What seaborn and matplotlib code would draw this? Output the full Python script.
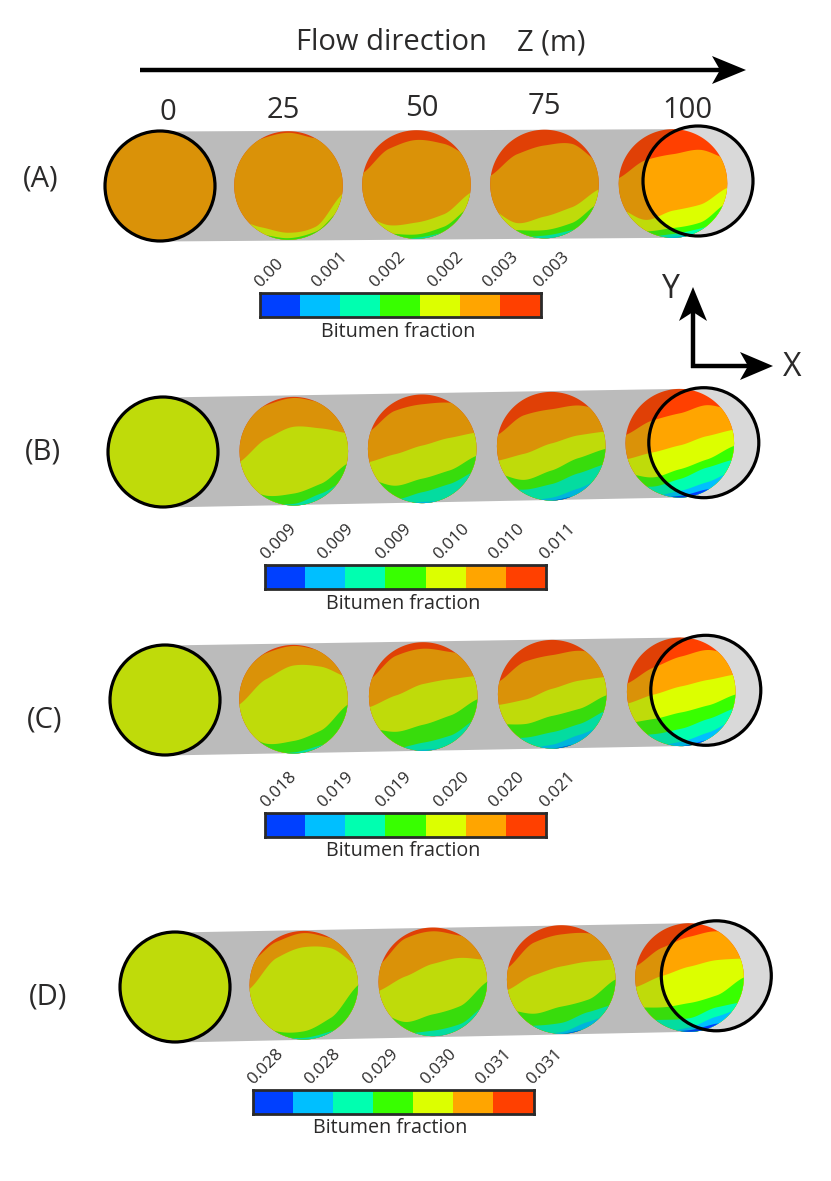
import numpy as np
import matplotlib
matplotlib.use('Agg')
import matplotlib.pyplot as plt
from matplotlib.colors import ListedColormap
from matplotlib.patches import Circle, Polygon
import seaborn as sns

# Pipe positions and colourbar labels
z_labels = ['0', '25', '50', '75', '100']
row_labels = ['(A)', '(B)', '(C)', '(D)']
ticks_A = ['0.00', '0.001', '0.002', '0.002', '0.003', '0.003']
ticks_B = ['0.009', '0.009', '0.009', '0.010', '0.010', '0.011']
ticks_C = ['0.018', '0.019', '0.019', '0.020', '0.020', '0.021']
ticks_D = ['0.028', '0.028', '0.029', '0.030', '0.031', '0.031']
levels = [0, 1, 2, 3, 4, 5, 6]

# Contour boundaries read off each slice (top to bottom, fraction of radius)
# sampled at these stations across the slice
stations = [-1, -0.5, 0, 0.5, 1]

A25 = [[.5, .86, .97, .87, .8], [-.6, -.77, -.87, -.76, -.15], [-.8, -.9, -.97, -.85, -.4]]
A50 = [[.2, .66, .82, .75, .5], [-.55, -.75, -.7, -.55, -.15], [-.8, -.9, -.92, -.78, -.4],
       [-1, -1, -.98, -.88, -.6]]
A75 = [[.15, .55, .71, .74, .4], [-.45, -.72, -.6, -.43, -.1], [-.8, -.85, -.85, -.72, -.35],
       [-.95, -.98, -.95, -.85, -.6], [-1, -1, -1, -.92, -.8]]
A100 = [[.1, .43, .54, .62, .45], [-.45, -.67, -.5, -.39, -.08], [-.8, -.88, -.82, -.72, -.35],
        [-.95, -.98, -.93, -.83, -.6], [-1, -1, -.98, -.9, -.75], [-1, -1, -1, -.96, -.85]]

B25 = [[.5, .85, .98, .9, .8], [-.2, .23, .45, .42, .33], [-.6, -.82, -.78, -.6, -.22],
       [-.9, -.96, -.97, -.78, -.5]]
B50 = [[.3, .7, .82, .85, .75], [-.25, -.1, .06, .2, .3], [-.55, -.68, -.55, -.4, -.13],
       [-.8, -.93, -.8, -.65, -.4], [-1, -1, -.98, -.92, -.6]]
B75 = [[.2, .57, .68, .75, .65], [-.27, -.14, .05, .2, .27], [-.5, -.62, -.45, -.22, -.05],
       [-.75, -.8, -.7, -.5, -.33], [-1, -1, -.95, -.78, -.55], [-1, -1, -1, -.9, -.75]]
B100 = [[.15, .42, .55, .7, .6], [-.3, -.17, -.04, .13, .25], [-.55, -.63, -.48, -.3, -.05],
        [-.75, -.8, -.66, -.45, -.3], [-1, -.98, -.88, -.72, -.5], [-1, -1, -.97, -.85, -.7]]

C25 = [[.45, .85, .98, .9, .8], [-.1, .37, .62, .6, .4], [-.55, -.82, -.77, -.58, -.1],
       [-.9, -.98, -.98, -.85, -.6]]
C50 = [[.3, .75, .88, .82, .7], [-.2, .02, .23, .32, .38], [-.58, -.65, -.52, -.35, -.05],
       [-.9, -.95, -.85, -.72, -.4], [-1, -1, -.98, -.92, -.65]]
C75 = [[.22, .6, .72, .8, .7], [-.2, -.1, .1, .25, .32], [-.55, -.55, -.4, -.27, -.02],
       [-.8, -.8, -.7, -.55, -.3], [-1, -1, -.93, -.75, -.55], [-1, -1, -1, -.9, -.75]]
C100 = [[.15, .45, .65, .77, .65], [-.22, -.05, .1, .22, .32], [-.58, -.5, -.38, -.25, -.05],
        [-.8, -.78, -.68, -.5, -.3], [-1, -1, -.92, -.75, -.5], [-1, -1, -1, -.88, -.68]]

D25 = [[.4, .8, .96, .87, .75], [-.07, .5, .7, .68, .35], [-.55, -.85, -.85, -.6, 0],
       [-.9, -.95, -.97, -.85, -.55]]
D50 = [[.3, .8, .93, .85, .72], [-.17, .1, .33, .44, .4], [-.55, -.74, -.6, -.45, 0],
       [-.95, -.95, -.9, -.78, -.4], [-1, -1, -1, -.9, -.55]]
D75 = [[.2, .68, .83, .85, .65], [-.2, .08, .24, .33, .37], [-.55, -.63, -.5, -.37, 0],
       [-.85, -.85, -.8, -.6, -.45], [-1, -1, -.97, -.78, -.6], [-1, -1, -1, -.9, -.75]]
D100 = [[.2, .55, .75, .85, .7], [-.18, .03, .2, .32, .35], [-.55, -.55, -.47, -.33, 0],
        [-.78, -.78, -.75, -.55, -.45], [-1, -1, -.92, -.72, -.55], [-1, -1, -.97, -.85, -.72]]

# colours from lowest to highest level
bright = ['#0040ff', '#00bfff', '#00ffb0', '#38ff00', '#dcff00', '#ffa500', '#ff4000']
dim = ['#0040e0', '#00b4dc', '#04dca0', '#38dc0c', '#bfdb0a', '#da9208', '#e04006']

# Layout in image pixels
W, H = 831, 1181
R_BIG = 55
R_SLICE = 54.3
rows = [
    dict(big=(160, 186, 5), slices=[(288, 185, A25), (416, 184, A50), (544, 183.5, A75), (672.5, 183, A100)],
         ring=(698, 181), bar=(259.5, 293, 281, 24), ticks=ticks_A, title=(398, 332), label=(41, 179)),
    dict(big=(163, 452, 4), slices=[(293.3, 450.7, B25), (421.7, 448.3, B50), (550.7, 445.7, B75), (679.3, 442.7, B100)],
         ring=(703.8, 442.7), bar=(265, 565, 281, 24), ticks=ticks_B, title=(403, 604), label=(43, 452)),
    dict(big=(165, 700, 4), slices=[(293, 698.7, C25), (422.7, 696, C50), (551.7, 693.7, C75), (680.7, 691.3, C100)],
         ring=(705.8, 690.3), bar=(265, 813, 281, 24), ticks=ticks_C, title=(403, 851), label=(45, 720)),
    dict(big=(175, 987, 4), slices=[(303.3, 984.7, D25), (432.3, 981.3, D50), (560.7, 979, D75), (689, 977, D100)],
         ring=(716.3, 975.8), bar=(252.5, 1090, 281, 24), ticks=ticks_D, title=(390, 1128), label=(48, 997)),
]
z_pos = [(168, 112), (283, 111), (422, 109), (544, 106), (687, 110)]
tick_dx = [0, 57, 115, 173, 228, 279]

TEXT = '#2b2a2a'
STRIP = '#bbbbbb'
RING_FILL = '#d9d9d9'

sns.set_theme(style='white')
plt.rcParams['font.family'] = ['Open Sans', 'DejaVu Sans']

fig = plt.figure(figsize=(W / 100, H / 100), dpi=100)
ax = fig.add_axes([0, 0, 1, 1])
ax.set_xlim(0, W)
ax.set_ylim(H, 0)
ax.axis('off')


def smooth_curve(u, values):
    # rounded curve through the read-off stations, tangents eased to cut the wobble
    xs = np.array(stations, dtype=float)
    ys = np.array(values, dtype=float)
    m = 0.7 * np.gradient(ys, xs)
    k = np.clip(np.searchsorted(xs, u, side='right') - 1, 0, len(xs) - 2)
    h = xs[k + 1] - xs[k]
    t = (u - xs[k]) / h
    return ((2 * t ** 3 - 3 * t ** 2 + 1) * ys[k] + (t ** 3 - 2 * t ** 2 + t) * h * m[k]
            + (-2 * t ** 3 + 3 * t ** 2) * ys[k + 1] + (t ** 3 - t ** 2) * h * m[k + 1])


def draw_slice(cx, cy, bounds, palette, clip=None):
    u = np.linspace(-1, 1, 401)
    edge = np.sqrt(1 - u ** 2)
    disc = ax.fill_between(cx + R_SLICE * u, cy - R_SLICE * edge, cy + R_SLICE * edge,
                           color=palette[6], lw=0, zorder=3)
    parts = [disc]
    for i, b in enumerate(bounds):
        v = smooth_curve(u, b)
        top = np.clip(v, -edge, edge)
        part = ax.fill_between(cx + R_SLICE * u, cy - R_SLICE * top, cy + R_SLICE * edge,
                               color=palette[5 - i], lw=0, zorder=3 + 0.1 * (i + 1))
        parts.append(part)
    if clip is not None:
        for p in parts:
            p.set_zorder(p.get_zorder() + 2)
            p.set_clip_path(clip)


def stealth(tip, direction, length, half, notch, stem_from):
    # arrow with a swept-back head, drawn as one stem and one polygon
    tx, ty = tip
    dx, dy = direction
    px, py = -dy, dx
    head = [(tx, ty),
            (tx - dx * length + px * half, ty - dy * length + py * half),
            (tx - dx * notch, ty - dy * notch),
            (tx - dx * length - px * half, ty - dy * length - py * half)]
    ax.plot([stem_from[0], tx - dx * notch], [stem_from[1], ty - dy * notch],
            color='black', lw=3.2, solid_capstyle='butt', zorder=6)
    ax.add_patch(Polygon(head, closed=True, color='black', lw=0, zorder=6))


for row, row_label in zip(rows, row_labels):
    bx, by, level = row['big']
    last = row['slices'][-1]

    # grey pipe between the inlet circle and the last slice
    ax.fill_between([bx, last[0]], [by - R_BIG, last[1] - R_SLICE], [by + R_BIG, last[1] + R_SLICE],
                    color=STRIP, lw=0, zorder=1)

    for cx, cy, bounds in row['slices']:
        draw_slice(cx, cy, bounds, dim)

    # inlet circle
    ax.add_patch(Circle((bx, by), R_BIG, facecolor=dim[level], edgecolor='black', lw=2.3, zorder=5))

    # brighter last slice seen through the outlet ring
    rx, ry = row['ring']
    ax.add_patch(Circle((rx, ry), R_BIG, facecolor=RING_FILL, edgecolor='none', zorder=4))
    clip = Circle((rx, ry), R_BIG, transform=ax.transData)
    draw_slice(last[0], last[1], last[2], bright, clip=clip)
    ax.add_patch(Circle((rx, ry), R_BIG, facecolor='none', edgecolor='black', lw=2.3, zorder=7))

    ax.text(row['label'][0], row['label'][1], row_label, fontsize=21, color=TEXT, ha='center', va='center')

    # colourbar
    x0, y0, w, h = row['bar']
    cax = fig.add_axes([x0 / W, 1 - (y0 + h) / H, w / W, h / H])
    sns.heatmap([levels], cmap=ListedColormap(bright), cbar=False, ax=cax,
                xticklabels=False, yticklabels=False)
    for s in cax.spines.values():
        s.set_visible(True)
        s.set_color('#2a2a2a')
        s.set_linewidth(2.0)
    for dx, t in zip(tick_dx, row['ticks']):
        ax.text(x0 + 1 + dx, y0 - 5, t, fontsize=12.2, color=TEXT, rotation=45,
                rotation_mode='anchor', ha='left', va='baseline')
    ax.text(row['title'][0], row['title'][1], 'Bitumen fraction', fontsize=14.2, color=TEXT,
            ha='center', va='center')

for lab, (x, y) in zip(z_labels, z_pos):
    ax.text(x, y, lab, fontsize=21, color=TEXT, ha='center', va='center')

ax.text(296, 43, 'Flow direction', fontsize=21, color=TEXT, ha='left', va='center')
ax.text(517, 43, 'Z (m)', fontsize=21, color=TEXT, ha='left', va='center')
stealth((746, 70), (1, 0), 34, 14, 26, (140, 70))
stealth((693, 287), (0, -1), 34, 14, 25, (693, 368))
stealth((773, 366), (1, 0), 33, 14, 25, (691, 366))
ax.text(671, 289, 'Y', fontsize=23, color=TEXT, ha='center', va='center')
ax.text(792, 367, 'X', fontsize=23, color=TEXT, ha='center', va='center')

fig.savefig('out.png', dpi=100)
